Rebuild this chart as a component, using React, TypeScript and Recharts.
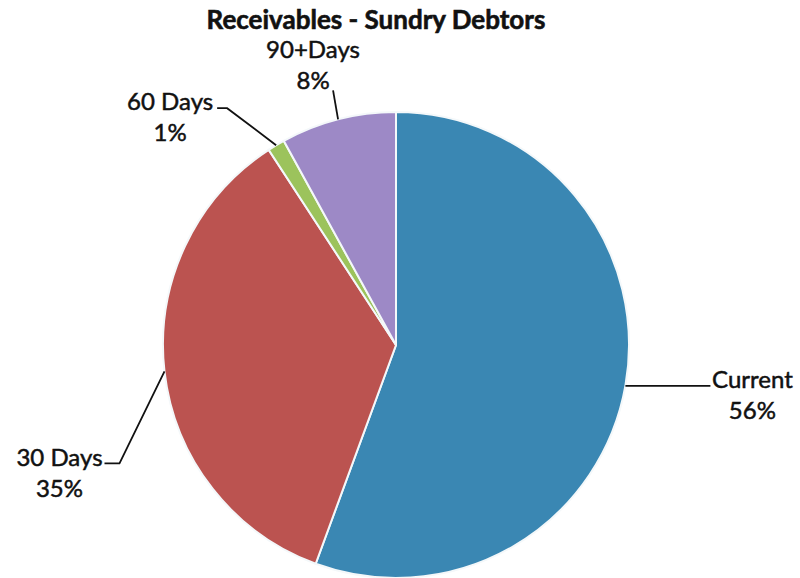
import React from "react";
import { PieChart, Pie, Cell } from "recharts";

// Receivables ageing split
const categories = ["Current", "30 Days", "60 Days", "90+Days"];
const shares = [55.6, 35.2, 1.2, 8.0];
const colors = ["#3a87b3", "#bb5350", "#9cc35c", "#9d89c6"];

const data = categories.map((name, i) => ({ name, value: shares[i] }));

const RADIAN = Math.PI / 180;

// where each label sits, relative to the slice edge at its mid angle
// line: bend points of the leader, text: centre of the two-line label
const labelLayout: Record<string, { line: [number, number][]; text: [number, number] }> = {
  Current: { line: [[85, 0]], text: [127, -6] },
  "30 Days": { line: [[-45, 92], [-60, 92]], text: [-105, 86] },
  "60 Days": { line: [[-49, -37], [-59, -37]], text: [-106, -44] },
  "90+Days": { line: [[-5, -29]], text: [-25, -70] },
};

const renderLabel = (props: any) => {
  const { cx, cy, midAngle, outerRadius, percent, name } = props;
  const ex = cx + outerRadius * Math.cos(-midAngle * RADIAN);
  const ey = cy + outerRadius * Math.sin(-midAngle * RADIAN);
  const lay = labelLayout[name];
  const pts = [[ex, ey], ...lay.line.map(([dx, dy]) => [ex + dx, ey + dy])];
  const tx = ex + lay.text[0];
  const ty = ey + lay.text[1];
  return (
    <g>
      <polyline
        points={pts.map((p) => p.join(",")).join(" ")}
        fill="none"
        stroke="#111"
        strokeWidth={1.8}
      />
      <text
        x={tx}
        y={ty}
        textAnchor="middle"
        fill="#111"
        stroke="#111"
        strokeWidth={0.5}
        fontFamily="Lato, sans-serif"
        fontSize={24}
      >
        <tspan x={tx} dy="0.35em">{name}</tspan>
        <tspan x={tx} dy="1.3em">{`${Math.round(percent * 100)}%`}</tspan>
      </text>
    </g>
  );
};

const App = () => {
  return (
    <div style={{ position: "absolute", left: 0, top: 0, width: 800, height: 578, background: "#fff" }}>
      <PieChart width={800} height={578}>
        <text
          x={376}
          y={22}
          textAnchor="middle"
          dominantBaseline="middle"
          fontFamily="Lato, sans-serif"
          fontWeight={700}
          fontSize={26}
          fill="#111"
          stroke="#111"
          strokeWidth={0.6}
        >
          Receivables - Sundry Debtors
        </text>
        <Pie
          data={data}
          dataKey="value"
          nameKey="name"
          cx={391}
          cy={340}
          outerRadius={233}
          startAngle={90}
          endAngle={-270}
          stroke="#f4f8fa"
          strokeWidth={2}
          label={renderLabel}
          labelLine={false}
          isAnimationActive={false}
        >
          {data.map((d, i) => (
            <Cell key={d.name} fill={colors[i]} />
          ))}
        </Pie>
      </PieChart>
    </div>
  );
};

export default App;
